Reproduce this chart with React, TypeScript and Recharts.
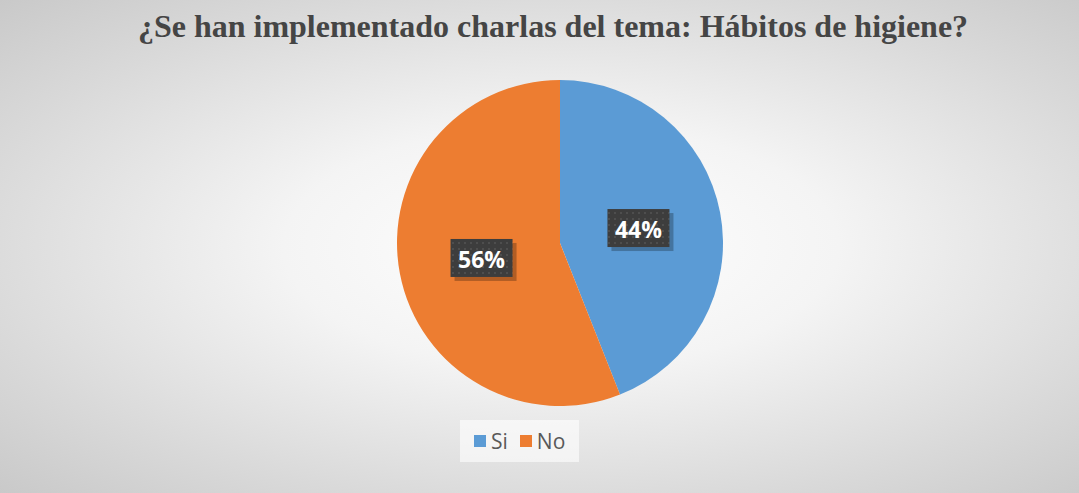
import { PieChart, Pie, Cell, Legend } from "recharts";

const categories = ["Si", "No"];
const values = [44, 56];
const COLORS = ["#5B9BD5", "#ED7D31"];

const data = categories.map((name, i) => ({ name, value: values[i] }));

const RADIAN = Math.PI / 180;

function renderLabel(props: any) {
  const { cx, cy, midAngle, outerRadius, percent, index } = props;
  const r = outerRadius * 0.49;
  const x = cx + r * Math.cos(-midAngle * RADIAN);
  const y = cy + r * Math.sin(-midAngle * RADIAN);
  const w = 62;
  const h = 38;
  const id = `dots-${index}`;
  return (
    <g>
      <defs>
        <pattern id={id} width="6" height="6" patternUnits="userSpaceOnUse">
          <rect width="6" height="6" fill="#3d3d3d" />
          <rect x="2" y="2" width="2" height="2" fill="#4e4e4e" />
        </pattern>
      </defs>
      <rect x={x - w / 2 + 4} y={y - h / 2 + 4} width={w} height={h} fill="rgba(0,0,0,0.25)" />
      <rect x={x - w / 2} y={y - h / 2} width={w} height={h} fill={`url(#${id})`} />
      <text
        x={x}
        y={y + 1}
        fill="#ffffff"
        textAnchor="middle"
        dominantBaseline="central"
        fontFamily="'Open Sans', sans-serif"
        fontWeight="bold"
        fontSize={23}
      >
        {`${Math.round(percent * 100)}%`}
      </text>
    </g>
  );
}

function renderLegend() {
  return (
    <div
      style={{
        display: "inline-flex",
        alignItems: "center",
        background: "rgba(255,255,255,0.6)",
        padding: "7px 14px",
        fontFamily: "'Open Sans', sans-serif",
        fontSize: 21,
        color: "#595959",
      }}
    >
      {categories.map((c, i) => (
        <span key={c} style={{ display: "inline-flex", alignItems: "center", marginRight: i === 0 ? 12 : 0 }}>
          <span style={{ width: 12, height: 12, background: COLORS[i], display: "inline-block", marginRight: 5 }} />
          {c}
        </span>
      ))}
    </div>
  );
}

export default function App() {
  return (
    <div
      style={{
        position: "absolute",
        left: 0,
        top: 0,
        width: 1079,
        height: 493,
        background: "radial-gradient(ellipse at 52% 50%, #ffffff 0%, #f4f4f4 35%, #d9d9d9 75%, #c9c9c9 100%)",
      }}
    >
      <div
        style={{
          position: "absolute",
          top: 8,
          left: 0,
          width: 1106,
          textAlign: "center",
          fontFamily: "'Liberation Serif', 'Times New Roman', serif",
          fontWeight: "bold",
          fontSize: 32,
          color: "#454545",
        }}
      >
        ¿Se han implementado charlas del tema: Hábitos de higiene?
      </div>
      <PieChart
        width={1079}
        height={493}
        margin={{ top: 0, right: 0, bottom: 0, left: 0 }}
        style={{ position: "absolute", left: 0, top: 0 }}
      >
        <Pie
          data={data}
          dataKey="value"
          nameKey="name"
          cx={560}
          cy={243}
          outerRadius={163}
          startAngle={90}
          endAngle={-270}
          stroke="none"
          label={renderLabel}
          labelLine={false}
          isAnimationActive={false}
        >
          {data.map((_, i) => (
            <Cell key={i} fill={COLORS[i]} />
          ))}
        </Pie>
        <Legend
          content={renderLegend}
          layout="horizontal"
          verticalAlign="bottom"
          align="center"
          wrapperStyle={{ left: 460, top: 420, width: 120 }}
        />
      </PieChart>
    </div>
  );
}
